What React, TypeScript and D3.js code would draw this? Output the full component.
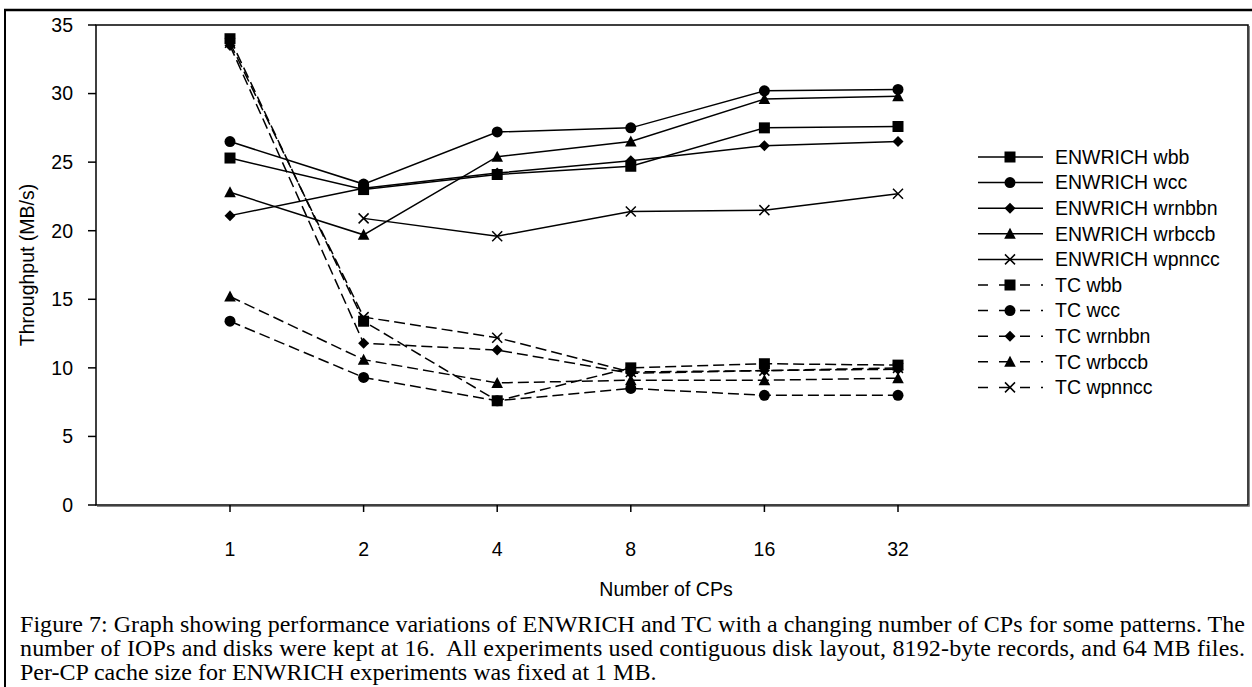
import React from "react";
import * as d3 from "d3";

const categories = ["1", "2", "4", "8", "16", "32"];
const yTicks = [0, 5, 10, 15, 20, 25, 30, 35];

const enwrichWbb = [25.3, 23.0, 24.1, 24.7, 27.5, 27.6];
const enwrichWcc = [26.5, 23.4, 27.2, 27.5, 30.2, 30.3];
const enwrichWrnbbn = [21.1, 23.1, 24.2, 25.1, 26.2, 26.5];
const enwrichWrbccb = [22.8, 19.7, 25.4, 26.5, 29.6, 29.8];
const enwrichWpnncc = [null, 20.9, 19.6, 21.4, 21.5, 22.7];
const tcWbb = [34.0, 13.4, 7.6, 10.0, 10.3, 10.2];
const tcWcc = [13.4, 9.3, 7.6, 8.5, 8.0, 8.0];
const tcWrnbbn = [33.5, 11.8, 11.3, 9.6, 9.8, 9.9];
const tcWrbccb = [15.2, 10.6, 8.9, 9.1, 9.1, 9.25];
const tcWpnncc = [33.7, 13.7, 12.2, 9.7, 9.8, 10.0];

const seriesNames = [
  "ENWRICH wbb", "ENWRICH wcc", "ENWRICH wrnbbn", "ENWRICH wrbccb", "ENWRICH wpnncc",
  "TC wbb", "TC wcc", "TC wrnbbn", "TC wrbccb", "TC wpnncc",
];
const seriesValues = [
  enwrichWbb, enwrichWcc, enwrichWrnbbn, enwrichWrbccb, enwrichWpnncc,
  tcWbb, tcWcc, tcWrnbbn, tcWrbccb, tcWpnncc,
];
const seriesMarkers = ["square", "circle", "diamond", "triangle", "x", "square", "circle", "diamond", "triangle", "x"];
const seriesDashed = [false, false, false, false, false, true, true, true, true, true];

const captionLines = [
  "Figure 7: Graph showing performance variations of ENWRICH and TC with a changing number of CPs for some patterns. The",
  "number of IOPs and disks were kept at 16.  All experiments used contiguous disk layout, 8192-byte records, and 64 MB files.",
  "Per-CP cache size for ENWRICH experiments was fixed at 1 MB.",
];

const W = 1252, H = 687;
const plot = { left: 96, right: 1248, top: 25, bottom: 505 };
const SANS = "'Liberation Sans', Arial, Helvetica, sans-serif";
const SERIF = "'Liberation Serif', 'Times New Roman', serif";
const FS = 19.5;

function markerPath(kind: string): string {
  const p = d3.path();
  if (kind === "square") {
    p.rect(-5.5, -5.5, 11, 11);
  } else if (kind === "circle") {
    p.arc(0, 0, 5.5, 0, Math.PI * 2);
  } else if (kind === "diamond") {
    p.moveTo(0, -5.5); p.lineTo(5.5, 0); p.lineTo(0, 5.5); p.lineTo(-5.5, 0); p.closePath();
  } else if (kind === "triangle") {
    p.moveTo(0, -6); p.lineTo(5.8, 5); p.lineTo(-5.8, 5); p.closePath();
  } else {
    p.moveTo(-5, -5); p.lineTo(5, 5); p.moveTo(5, -5); p.lineTo(-5, 5);
  }
  return p.toString();
}

function Marker({ kind, x, y }: { kind: string; x: number; y: number }) {
  const isX = kind === "x";
  return (
    <path
      d={markerPath(kind)}
      transform={`translate(${x},${y})`}
      fill={isX ? "none" : "#000"}
      stroke="#000"
      strokeWidth={isX ? 1.5 : 0}
    />
  );
}

export default function App() {
  const x = d3.scalePoint<string>().domain(categories).range([230, 898]);
  const y = d3.scaleLinear().domain([0, 35]).range([plot.bottom, plot.top]);
  const line = d3
    .line<number | null>()
    .defined((d) => d !== null)
    .x((_, i) => x(categories[i]) as number)
    .y((d) => y(d as number));

  const legendTop = 157;
  const legendStep = 25.6;
  const legX0 = 978, legX1 = 1043, legMid = 1010, legText = 1055;

  return (
    <svg width={W} height={H} style={{ position: "absolute", left: 0, top: 0, background: "#fff" }}>
      <rect x={0} y={0} width={W} height={H} fill="#fff" />
      {/* outer figure frame */}
      <line x1={4} x2={W} y1={10} y2={10} stroke="#000" strokeWidth={2.5} />
      <line x1={5} x2={5} y1={9} y2={H} stroke="#000" strokeWidth={2} />

      {/* plot box */}
      <rect x={plot.left} y={plot.top} width={plot.right - plot.left} height={plot.bottom - plot.top}
        fill="none" stroke="#000" strokeWidth={1.5} />
      <line x1={plot.right + 1.5} x2={plot.right + 1.5} y1={plot.top + 1} y2={plot.bottom + 1.5} stroke="#888" strokeWidth={1} />
      <line x1={plot.left + 1} x2={plot.right + 1.5} y1={plot.bottom + 1.5} y2={plot.bottom + 1.5} stroke="#888" strokeWidth={1} />

      {/* y axis ticks */}
      {yTicks.map((t) => (
        <g key={t}>
          <line x1={plot.left - 8} x2={plot.left} y1={y(t)} y2={y(t)} stroke="#000" strokeWidth={1.5} />
          <text x={73} y={y(t)} dy="0.35em" textAnchor="end" fontFamily={SANS} fontSize={FS}>{t}</text>
        </g>
      ))}
      {/* x axis ticks */}
      {categories.map((c) => (
        <g key={c}>
          <line x1={x(c)} x2={x(c)} y1={plot.bottom} y2={plot.bottom + 7} stroke="#000" strokeWidth={1.5} />
          <text x={x(c)} y={549} dy="0.35em" textAnchor="middle" fontFamily={SANS} fontSize={FS}>{c}</text>
        </g>
      ))}
      <text x={666} y={589} dy="0.35em" textAnchor="middle" fontFamily={SANS} fontSize={FS}>Number of CPs</text>
      <text transform={`translate(27,${(plot.top + plot.bottom) / 2}) rotate(-90)`} textAnchor="middle"
        dy="0.35em" fontFamily={SANS} fontSize={FS}>Throughput (MB/s)</text>

      {/* series lines */}
      {seriesValues.map((vals, si) => (
        <path key={"l" + si} d={line(vals) || ""} fill="none" stroke="#000" strokeWidth={1.5}
          strokeDasharray={seriesDashed[si] ? "11,5" : undefined} />
      ))}
      {/* markers */}
      {seriesValues.map((vals, si) =>
        vals.map((v, i) =>
          v === null ? null : (
            <Marker key={`m${si}-${i}`} kind={seriesMarkers[si]} x={x(categories[i]) as number} y={y(v)} />
          )
        )
      )}

      {/* legend */}
      {seriesNames.map((name, si) => {
        const ly = legendTop + si * legendStep;
        return (
          <g key={"lg" + si}>
            <line x1={legX0} x2={legX1} y1={ly} y2={ly} stroke="#000" strokeWidth={1.5}
              strokeDasharray={seriesDashed[si] ? "10,11" : undefined} />
            <Marker kind={seriesMarkers[si]} x={legMid} y={ly} />
            <text x={legText} y={ly} dy="0.35em" fontFamily={SANS} fontSize={FS}>{name}</text>
          </g>
        );
      })}

      {/* caption */}
      {captionLines.map((t, i) => (
        <text key={"c" + i} x={20} y={632 + i * 24} fontFamily={SERIF} fontSize={24}
          textLength={i < 2 ? 1225 : undefined} lengthAdjust={i < 2 ? "spacing" : undefined}
          style={{ whiteSpace: "pre" }}>{t}</text>
      ))}
    </svg>
  );
}
